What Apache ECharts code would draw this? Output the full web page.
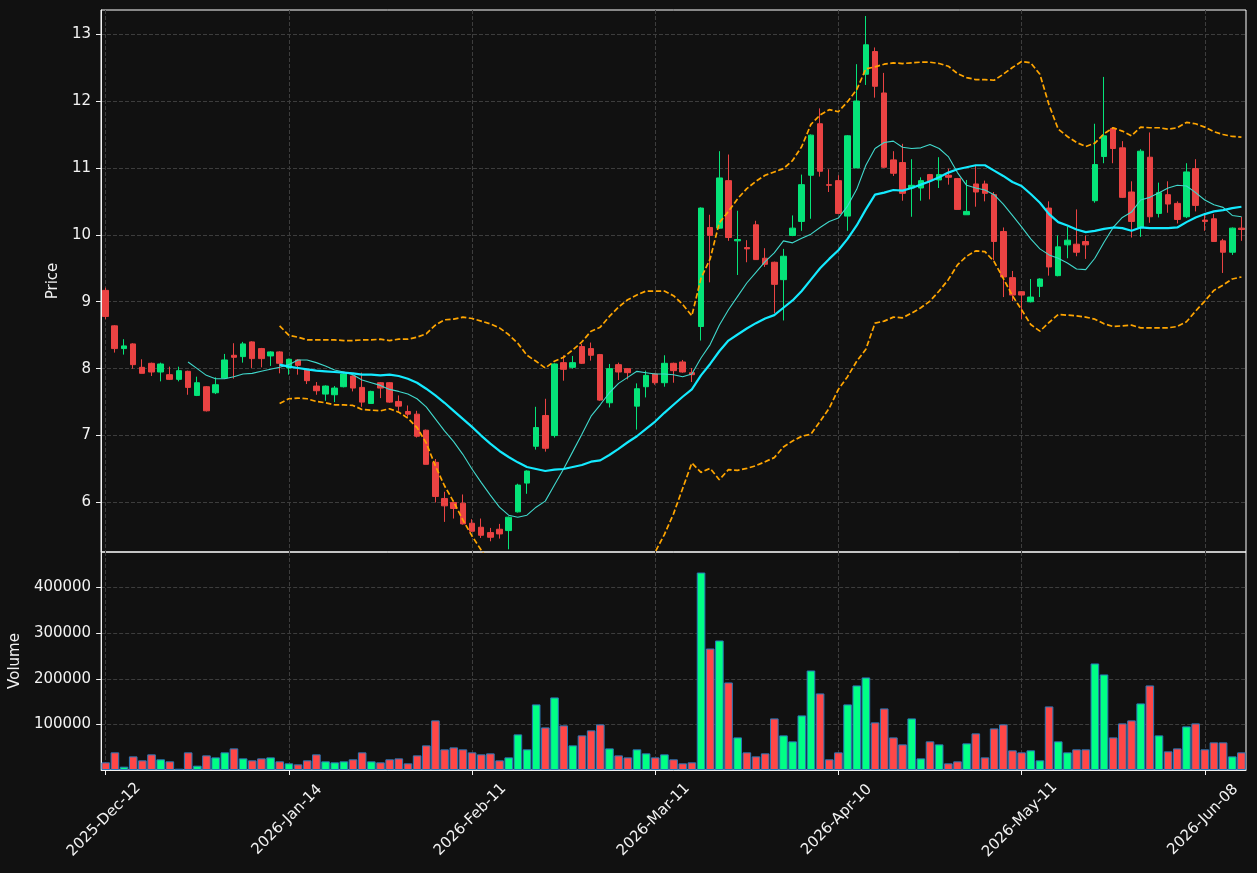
<!DOCTYPE html>
<html>
<head>
<meta charset="utf-8">
<title>Price and volume</title>
<script src="https://cdn.jsdelivr.net/npm/echarts@6/dist/echarts.min.js"></script>
<style>
  html, body { margin: 0; padding: 0; background: #111111; }
  #chart { width: 1257px; height: 873px; }
</style>
</head>
<body>
<div id="chart"></div>
<script>
// trading days, one per candle
const dates = [
  '2025-Dec-12','2025-Dec-15','2025-Dec-16','2025-Dec-17','2025-Dec-18','2025-Dec-19','2025-Dec-22','2025-Dec-23','2025-Dec-24','2025-Dec-29',
  '2025-Dec-30','2025-Dec-31','2026-Jan-02','2026-Jan-05','2026-Jan-06','2026-Jan-07','2026-Jan-08','2026-Jan-09','2026-Jan-12','2026-Jan-13',
  '2026-Jan-14','2026-Jan-15','2026-Jan-16','2026-Jan-19','2026-Jan-20','2026-Jan-21','2026-Jan-22','2026-Jan-23','2026-Jan-26','2026-Jan-27',
  '2026-Jan-28','2026-Jan-29','2026-Jan-30','2026-Feb-02','2026-Feb-03','2026-Feb-04','2026-Feb-05','2026-Feb-06','2026-Feb-09','2026-Feb-10',
  '2026-Feb-11','2026-Feb-12','2026-Feb-13','2026-Feb-16','2026-Feb-17','2026-Feb-18','2026-Feb-19','2026-Feb-20','2026-Feb-23','2026-Feb-24',
  '2026-Feb-25','2026-Feb-26','2026-Feb-27','2026-Mar-02','2026-Mar-03','2026-Mar-04','2026-Mar-05','2026-Mar-06','2026-Mar-09','2026-Mar-10',
  '2026-Mar-11','2026-Mar-12','2026-Mar-13','2026-Mar-16','2026-Mar-17','2026-Mar-18','2026-Mar-19','2026-Mar-20','2026-Mar-23','2026-Mar-24',
  '2026-Mar-25','2026-Mar-26','2026-Mar-27','2026-Mar-30','2026-Mar-31','2026-Apr-01','2026-Apr-02','2026-Apr-07','2026-Apr-08','2026-Apr-09',
  '2026-Apr-10','2026-Apr-13','2026-Apr-14','2026-Apr-15','2026-Apr-16','2026-Apr-17','2026-Apr-20','2026-Apr-21','2026-Apr-22','2026-Apr-23',
  '2026-Apr-24','2026-Apr-27','2026-Apr-28','2026-Apr-29','2026-Apr-30','2026-May-04','2026-May-05','2026-May-06','2026-May-07','2026-May-08',
  '2026-May-11','2026-May-12','2026-May-13','2026-May-14','2026-May-15','2026-May-18','2026-May-19','2026-May-20','2026-May-21','2026-May-22',
  '2026-May-25','2026-May-26','2026-May-27','2026-May-28','2026-May-29','2026-Jun-01','2026-Jun-02','2026-Jun-03','2026-Jun-04','2026-Jun-05',
  '2026-Jun-08','2026-Jun-09','2026-Jun-10','2026-Jun-11','2026-Jun-12'
];

const opens = [
  9.17,8.64,8.30,8.37,8.02,8.08,7.95,7.91,7.84,7.96, 7.60,7.73,7.64,7.86,8.20,8.18,8.40,8.30,8.19,8.25,
  8.01,8.13,7.99,7.74,7.62,7.61,7.73,7.89,7.72,7.48, 7.79,7.79,7.51,7.36,7.32,7.08,6.60,6.06,6.00,5.99,
  5.69,5.63,5.55,5.60,5.58,5.86,6.29,6.84,7.30,7.00, 8.09,8.02,8.33,8.30,8.21,7.49,8.06,8.00,7.44,7.73,
  7.92,7.79,8.08,8.10,7.94,8.63,10.11,10.10,10.81,9.91, 9.81,10.15,9.65,9.59,9.33,9.99,10.20,10.89,11.66,10.75,
  10.81,10.28,11.00,12.40,12.74,12.12,11.12,11.08,10.70,10.70, 10.90,10.82,10.89,10.84,10.30,10.76,10.76,10.60,10.05,9.36,
  9.15,9.00,9.23,10.40,9.39,9.85,9.86,9.90,10.51,11.17, 11.59,11.30,10.64,10.11,11.16,10.32,10.60,10.47,10.27,10.99,
  10.22,10.24,9.91,9.74,10.10
];
const closes = [
  8.78,8.30,8.34,8.06,7.93,7.95,8.07,7.84,7.97,7.72, 7.79,7.37,7.76,8.13,8.17,8.37,8.15,8.15,8.25,8.08,
  8.14,8.05,7.82,7.67,7.74,7.71,7.92,7.71,7.50,7.66, 7.71,7.50,7.44,7.32,6.99,6.57,6.09,5.95,5.91,5.68,
  5.57,5.51,5.48,5.53,5.78,6.26,6.47,7.12,6.81,8.07, 7.99,8.09,8.08,8.20,7.53,8.00,7.95,7.94,7.70,7.90,
  7.79,8.08,7.97,7.95,7.91,10.40,9.99,10.85,9.96,9.93, 9.79,9.63,9.56,9.26,9.68,10.10,10.75,11.49,10.95,10.74,
  10.32,11.48,12.00,12.84,12.22,11.01,10.92,10.62,10.74,10.81, 10.81,10.90,10.86,10.38,10.35,10.64,10.62,9.90,9.37,9.10,
  9.10,9.07,9.34,9.52,9.82,9.92,9.74,9.85,11.05,11.48, 11.29,10.56,10.20,11.25,10.27,10.63,10.46,10.23,10.94,10.44,
  10.20,9.90,9.74,10.10,10.08
];
const lows = [
  8.74,8.24,8.21,8.00,7.93,7.89,7.81,7.83,7.81,7.61, 7.59,7.36,7.62,7.85,7.85,8.09,8.01,8.02,8.04,7.93,
  7.91,7.91,7.77,7.61,7.52,7.50,7.72,7.66,7.43,7.48, 7.56,7.49,7.37,7.28,6.97,6.57,6.00,5.71,5.76,5.67,
  5.56,5.47,5.42,5.46,5.30,5.85,6.13,6.79,6.76,6.97, 7.82,8.00,8.07,8.12,7.52,7.42,7.83,7.84,7.09,7.57,
  7.76,7.73,7.79,7.94,7.80,8.42,9.29,10.09,9.91,9.40, 9.59,9.63,9.52,8.83,8.72,9.98,10.06,10.24,10.87,10.64,
  10.32,10.06,11.00,12.24,12.05,11.00,10.88,10.51,10.27,10.51, 10.53,10.70,10.75,10.38,10.30,10.42,10.50,9.62,9.07,9.01,
  8.74,8.99,9.07,9.39,9.38,9.65,9.68,9.64,10.48,11.07, 11.07,10.55,9.96,9.97,10.18,10.26,10.33,10.17,10.25,10.35,
  10.06,9.90,9.43,9.70,9.91
];
const highs = [
  9.21,8.65,8.44,8.38,8.14,8.09,8.09,8.03,8.03,7.97, 7.88,7.74,7.87,8.22,8.38,8.40,8.41,8.31,8.26,8.26,
  8.15,8.14,8.00,7.80,7.75,7.74,7.93,7.90,7.94,7.67, 7.80,7.80,7.60,7.45,7.37,7.09,6.65,6.16,6.01,6.12,
  5.75,5.76,5.62,5.68,5.79,6.28,6.48,7.43,7.55,8.08, 8.20,8.19,8.37,8.39,8.22,8.07,8.09,8.01,7.78,7.97,
  7.93,8.20,8.09,8.13,8.01,10.41,10.30,11.25,11.20,10.36, 9.92,10.21,9.80,9.60,9.79,10.29,10.90,11.50,11.89,10.98,
  10.89,11.49,12.55,13.27,12.80,12.42,11.25,11.36,11.13,10.86, 10.91,11.16,10.99,10.85,10.82,11.03,10.81,10.64,10.11,9.46,
  9.16,9.34,9.35,10.50,9.99,10.12,10.38,9.99,11.66,12.36, 11.61,11.40,10.80,11.28,11.53,10.78,10.80,10.50,11.07,11.13,
  10.30,10.31,9.94,10.11,10.27
];

const volumes = [
  16800,38700,7300,29900,21200,34300,23400,19000,2900,38700,
  9500,32100,27700,38700,47400,25500,21200,25500,27700,19000,
  14600,12400,21200,34300,19000,16800,19000,23400,38700,19000,
  16800,23400,25500,14600,32100,54000,108800,45300,49600,45300,
  38700,34300,36500,21200,27700,78100,45300,143800,93400,159100,
  97800,54000,75900,86900,100000,47400,32100,27700,45300,36500,
  27700,34300,23400,14600,16800,433000,266400,284000,192000,71500,
  38700,29900,36500,113100,75900,62800,119700,218200,167900,23400,
  38700,143800,185400,202900,104400,135000,71500,56200,113100,25500,
  62800,56200,14600,19000,58400,80300,27700,91200,100000,43100,
  38700,43100,21200,139400,62800,38700,45300,45300,233600,209500,
  71500,102200,108800,146000,185400,75900,40900,47400,95600,102200,
  45300,60600,60600,29900,38700
];

// 10-day average, first value on the 10th candle
const ma10 = [
  8.10,8.00,7.90,7.85,7.85,7.88,7.92,7.93,7.96,7.99,
  8.02,8.06,8.13,8.13,8.09,8.04,7.98,7.95,7.91,7.83,
  7.79,7.75,7.69,7.66,7.62,7.55,7.43,7.25,7.07,6.91,
  6.72,6.50,6.30,6.11,5.93,5.81,5.78,5.81,5.93,6.02,
  6.26,6.50,6.76,7.02,7.29,7.46,7.64,7.78,7.87,7.96,
  7.94,7.92,7.92,7.91,7.88,7.92,8.16,8.36,8.65,8.88,
  9.08,9.28,9.44,9.60,9.73,9.91,9.88,9.95,10.01,10.11,
  10.20,10.25,10.43,10.68,11.04,11.29,11.38,11.40,11.31,11.29,
  11.30,11.35,11.29,11.17,10.93,10.74,10.70,10.67,10.60,10.46,
  10.29,10.12,9.94,9.79,9.70,9.65,9.58,9.49,9.48,9.65,
  9.89,10.11,10.26,10.34,10.52,10.56,10.63,10.70,10.74,10.73,
  10.63,10.52,10.45,10.41,10.29,10.27
];
// 20-day average and bands, first value on the 20th candle
const ma20 = [
  8.06,8.03,8.01,7.99,7.97,7.96,7.95,7.94,7.93,7.91,
  7.91,7.90,7.91,7.89,7.85,7.79,7.70,7.60,7.49,7.37,
  7.25,7.13,7.00,6.88,6.77,6.68,6.60,6.53,6.50,6.47,
  6.49,6.50,6.53,6.56,6.61,6.63,6.71,6.80,6.90,6.99,
  7.10,7.21,7.34,7.46,7.58,7.69,7.90,8.07,8.26,8.42,
  8.51,8.60,8.68,8.75,8.80,8.91,9.02,9.16,9.33,9.50,
  9.64,9.77,9.94,10.14,10.38,10.60,10.63,10.67,10.66,10.70,
  10.75,10.80,10.86,10.93,10.98,11.01,11.04,11.04,10.96,10.88,
  10.79,10.73,10.61,10.48,10.31,10.19,10.14,10.08,10.04,10.06,
  10.09,10.11,10.10,10.06,10.11,10.10,10.10,10.10,10.11,10.19,
  10.26,10.31,10.35,10.37,10.40,10.42
];
const bandUpper = [
  8.64,8.50,8.47,8.43,8.43,8.43,8.43,8.42,8.42,8.43,
  8.43,8.44,8.42,8.44,8.44,8.47,8.52,8.65,8.73,8.74,
  8.77,8.75,8.71,8.67,8.61,8.51,8.38,8.20,8.11,8.01,
  8.11,8.17,8.28,8.40,8.56,8.62,8.78,8.92,9.03,9.10,
  9.16,9.16,9.16,9.09,8.96,8.79,9.35,9.64,10.18,10.35,
  10.54,10.69,10.80,10.89,10.94,10.99,11.11,11.32,11.65,11.79,
  11.87,11.84,11.99,12.17,12.48,12.51,12.55,12.57,12.56,12.57,
  12.58,12.58,12.56,12.52,12.41,12.35,12.32,12.32,12.31,12.40,
  12.50,12.59,12.57,12.40,11.94,11.58,11.47,11.38,11.32,11.37,
  11.51,11.60,11.55,11.48,11.61,11.60,11.60,11.58,11.60,11.68,
  11.66,11.61,11.54,11.50,11.47,11.46
];
const bandLower = [
  7.48,7.55,7.56,7.55,7.51,7.49,7.46,7.46,7.45,7.39,
  7.38,7.37,7.40,7.35,7.26,7.12,6.89,6.55,6.25,6.01,
  5.74,5.50,5.29,5.10,4.94,4.85,4.83,4.86,4.90,4.92,
  4.87,4.84,4.78,4.72,4.66,4.65,4.64,4.68,4.76,4.88,
  5.04,5.26,5.52,5.83,6.21,6.59,6.45,6.51,6.34,6.49,
  6.48,6.51,6.55,6.61,6.67,6.83,6.92,6.99,7.02,7.21,
  7.41,7.69,7.88,8.11,8.29,8.68,8.71,8.77,8.76,8.83,
  8.91,9.01,9.16,9.33,9.55,9.68,9.76,9.75,9.60,9.35,
  9.09,8.88,8.66,8.56,8.69,8.81,8.80,8.79,8.77,8.74,
  8.67,8.63,8.64,8.65,8.61,8.61,8.61,8.61,8.63,8.70,
  8.86,9.01,9.17,9.25,9.34,9.37
];

const dateTickIdx = [0, 20, 40, 60, 80, 100, 120];
const priceTicks = [6, 7, 8, 9, 10, 11, 12, 13];
const volumeTicks = [100000, 200000, 300000, 400000];

const UP = '#05e479';
const DOWN = '#ea4343';
const VOL_UP = '#00ff85';
const VOL_DOWN = '#ff4747';
const FG = '#f2f2f2';
const GRID = '#3d3d3d';
const FONT = 'DejaVu Sans';

const pad = (arr) => Array(dates.length - arr.length).fill('-').concat(arr);
const candles = dates.map((d, i) => [opens[i], closes[i], lows[i], highs[i]]);
const volumeBars = volumes.map((v, i) => ({
  value: v,
  itemStyle: { color: closes[i] >= opens[i] ? VOL_UP : VOL_DOWN }
}));
const onDateTick = (i) => dateTickIdx.includes(i);

const chart = echarts.init(document.getElementById('chart'), null, { renderer: 'canvas' });

const xBase = {
  type: 'category',
  data: dates,
  boundaryGap: true,
  splitLine: {
    show: true,
    interval: onDateTick,
    alignWithLabel: true,
    lineStyle: { color: GRID, type: [4, 2], width: 1 }
  }
};

const yBase = {
  type: 'value',
  axisLine: { show: true, onZero: false, lineStyle: { color: FG } },
  axisTick: { show: true, length: 5, lineStyle: { color: FG } },
  axisLabel: { color: FG, fontSize: 15, fontFamily: FONT, margin: 10, formatter: (v) => String(v) },
  splitLine: { show: true, lineStyle: { color: GRID, type: [4, 2], width: 1 } },
  nameLocation: 'middle',
  nameTextStyle: { color: FG, fontSize: 15, fontFamily: FONT }
};

chart.setOption({
  backgroundColor: '#111111',
  animation: false,
  grid: [
    { left: 101, right: 11, top: 10, height: 542, show: true, borderColor: '#ffffff', borderWidth: 1, backgroundColor: 'transparent' },
    { left: 101, right: 11, top: 552, height: 218, show: true, borderColor: '#ffffff', borderWidth: 1, backgroundColor: 'transparent' }
  ],
  xAxis: [
    Object.assign({}, xBase, {
      gridIndex: 0,
      axisLine: { show: false, onZero: false },
      axisTick: { show: false },
      axisLabel: { show: false }
    }),
    Object.assign({}, xBase, {
      gridIndex: 1,
      axisLine: { show: true, onZero: false, lineStyle: { color: FG } },
      axisTick: { show: true, interval: onDateTick, alignWithLabel: true, length: 5, lineStyle: { color: FG } },
      axisLabel: {
        show: true,
        interval: onDateTick,
        rotate: 45,
        align: 'center',
        verticalAlign: 'middle',
        margin: 48,
        padding: [0, 5, 5, 0],
        color: FG,
        fontSize: 15,
        fontFamily: FONT
      }
    })
  ],
  yAxis: [
    Object.assign({}, yBase, {
      gridIndex: 0,
      min: 5.26,
      max: 13.36,
      name: 'Price',
      nameGap: 29,
      axisTick: Object.assign({}, yBase.axisTick, { customValues: priceTicks }),
      axisLabel: Object.assign({}, yBase.axisLabel, { customValues: priceTicks })
    }),
    Object.assign({}, yBase, {
      gridIndex: 1,
      min: 0,
      max: 478000,
      name: 'Volume',
      nameGap: 70,
      axisTick: Object.assign({}, yBase.axisTick, { customValues: volumeTicks }),
      axisLabel: Object.assign({}, yBase.axisLabel, { customValues: volumeTicks })
    })
  ],
  series: [
    {
      name: 'Price',
      type: 'candlestick',
      xAxisIndex: 0,
      yAxisIndex: 0,
      data: candles,
      barWidth: 6,
      itemStyle: { color: UP, color0: DOWN, borderColor: UP, borderColor0: DOWN, borderWidth: 1 }
    },
    {
      name: 'MA10',
      type: 'line',
      xAxisIndex: 0,
      yAxisIndex: 0,
      data: pad(ma10),
      showSymbol: false,
      lineStyle: { color: '#40d8cc', width: 1.1 },
      z: 3
    },
    {
      name: 'MA20',
      type: 'line',
      xAxisIndex: 0,
      yAxisIndex: 0,
      data: pad(ma20),
      showSymbol: false,
      lineStyle: { color: '#14eaff', width: 2.2 },
      z: 3
    },
    {
      name: 'Upper',
      type: 'line',
      xAxisIndex: 0,
      yAxisIndex: 0,
      data: pad(bandUpper),
      showSymbol: false,
      lineStyle: { color: '#ffa500', width: 1.7, type: [5.5, 2.5] },
      z: 3
    },
    {
      name: 'Lower',
      type: 'line',
      xAxisIndex: 0,
      yAxisIndex: 0,
      data: pad(bandLower),
      showSymbol: false,
      lineStyle: { color: '#ffa500', width: 1.7, type: [5.5, 2.5] },
      z: 3
    },
    {
      name: 'Volume',
      type: 'bar',
      xAxisIndex: 1,
      yAxisIndex: 1,
      data: volumeBars,
      barWidth: '94%',
      itemStyle: { borderColor: '#2a78b8', borderWidth: 1 }
    }
  ]
});
</script>
</body>
</html>
